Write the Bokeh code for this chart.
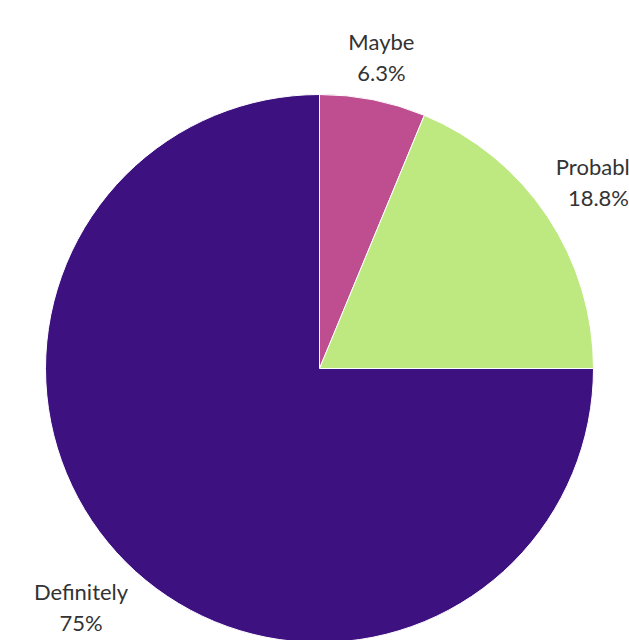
import math
from bokeh.plotting import figure
from bokeh.models import ColumnDataSource
from bokeh.core.properties import value
from bokeh.embed import file_html
from bokeh.resources import INLINE

categories = ["Maybe", "Probably", "Definitely"]
counts = [1, 3, 12]
pct_labels = ["6.3%", "18.8%", "75%"]
colors = ["#BF4E91", "#BEE880", "#3E1180"]

W, H = 629, 640
cx, cy = 319, H - 368
R = 274

total = sum(counts)
starts, ends, mids = [], [], []
a = math.pi / 2
for c in counts:
    span = 2 * math.pi * c / total
    starts.append(a)
    ends.append(a - span)
    mids.append(a - span / 2)
    a -= span

src = ColumnDataSource(dict(start=starts, end=ends, color=colors, cat=categories))

p = figure(width=W, height=H, x_range=(0, W), y_range=(0, H),
           output_backend="svg", toolbar_location=None, min_border=0)
p.axis.visible = False
p.grid.visible = False
p.outline_line_color = None
p.background_fill_color = "white"

p.wedge(x=cx, y=cy, radius=R, start_angle="start", end_angle="end",
        direction="clock", fill_color="color", line_color="white",
        line_width=1, source=src)

lx, ly_name, ly_pct = [], [], []
widths = [70, 92, 100]
for m, w in zip(mids, widths):
    rr = R + 6 + (w / 2) * abs(math.cos(m)) + 31 * abs(math.sin(m))
    x = cx + rr * math.cos(m)
    y = cy + rr * math.sin(m)
    lx.append(x)
    ly_name.append(y + 15.5)
    ly_pct.append(y - 15.5)

lsrc = ColumnDataSource(dict(x=lx, yn=ly_name, yp=ly_pct, name=categories, pct=pct_labels))
for ycol, tcol in (("yn", "name"), ("yp", "pct")):
    p.text(x="x", y=ycol, text=tcol, source=lsrc, text_align="center",
           text_baseline="middle", text_font=value("Lato"),
           text_font_size="22px", text_color="#333333")

open("out.html", "w").write(file_html(p, INLINE))
